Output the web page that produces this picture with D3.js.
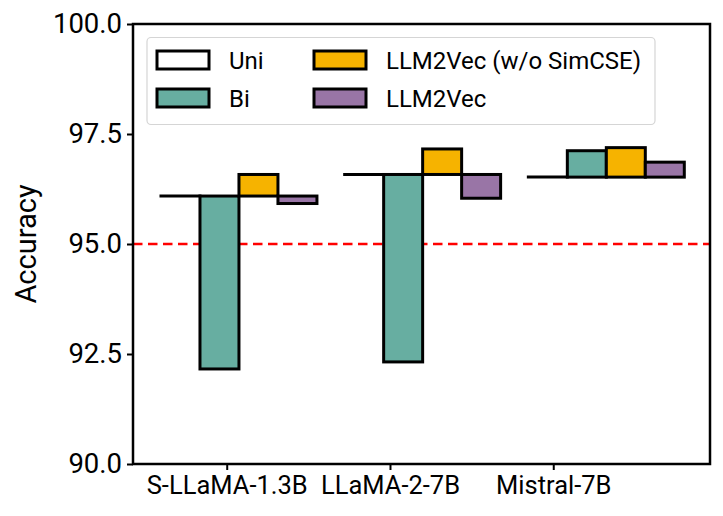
<!DOCTYPE html>
<html><head><meta charset="utf-8">
<script src="https://cdn.jsdelivr.net/npm/d3@7"></script>
<style>body{margin:0;background:#fff}</style>
</head><body>
<svg id="c" width="723" height="516"></svg>
<script>
const categories = ["S-LLaMA-1.3B", "LLaMA-2-7B", "Mistral-7B"];
const uni = [96.09, 96.58, 96.52];
const bi = [92.16, 92.32, 97.12];
const llm2vecNoSimcse = [96.58, 97.16, 97.19];
const llm2vec = [95.92, 96.04, 96.86];
const yTicks = [90.0, 92.5, 95.0, 97.5, 100.0];
const seriesNames = ["Uni", "Bi", "LLM2Vec (w/o SimCSE)", "LLM2Vec"];
const seriesColors = ["#ffffff", "#67aea1", "#f6b300", "#9975a6"];
const tickPos = [0, 1, 2];
const groupPos = [0.075, 1.2, 2.325];
const barWidth = 0.2388;
const threshold = 95.0;

const svg = d3.select("#c");
const m = {left: 133, right: 710, top: 24, bottom: 464};
const x = d3.scaleLinear().domain([-0.574, 2.96]).range([m.left, m.right]);
const y = d3.scaleLinear().domain([90, 100]).range([m.bottom, m.top]);
const font = "Roboto, 'Liberation Sans', sans-serif";

const g = svg.append("g");
const plot = g.append("g");

// threshold line
plot.append("line")
  .attr("x1", x.range()[0]).attr("x2", x.range()[1])
  .attr("y1", y(threshold)).attr("y2", y(threshold))
  .attr("stroke", "#ff0000").attr("stroke-width", 2.5)
  .attr("stroke-dasharray", "9.5,5.5");

const series = [uni, bi, llm2vecNoSimcse, llm2vec];
series.forEach((vals, si) => {
  vals.forEach((v, ci) => {
    const x0 = x(groupPos[ci] + (si - 2) * barWidth);
    const x1 = x(groupPos[ci] + (si - 1) * barWidth);
    const base = uni[ci];
    if (si === 0) {
      plot.append("line")
        .attr("x1", x0).attr("x2", x1)
        .attr("y1", y(base)).attr("y2", y(base))
        .attr("stroke", "#000").attr("stroke-width", 3)
        .attr("stroke-linecap", "square");
    } else {
      const top = y(Math.max(v, base)), bot = y(Math.min(v, base));
      plot.append("rect")
        .attr("x", x0).attr("width", x1 - x0)
        .attr("y", top).attr("height", bot - top)
        .attr("fill", seriesColors[si])
        .attr("stroke", "#000").attr("stroke-width", 3)
        .attr("stroke-linejoin", "miter");
    }
  });
});

// axes
const yAxis = d3.axisLeft(y).tickValues(yTicks).tickFormat(d3.format(".1f")).tickSize(6).tickPadding(5);
const ya = g.append("g").attr("transform", `translate(${m.left},0)`).call(yAxis);
ya.select(".domain").remove();
ya.selectAll(".tick line").attr("stroke-width", 2);
ya.selectAll(".tick text").attr("font-family", font).attr("font-size", 27.5).attr("fill", "#000");

const xAxis = d3.axisBottom(x).tickValues(tickPos).tickFormat((d, i) => categories[i]).tickSize(6).tickPadding(6);
const xa = g.append("g").attr("transform", `translate(0,${m.bottom})`).call(xAxis);
xa.select(".domain").remove();
xa.selectAll(".tick line").attr("stroke-width", 2);
xa.selectAll(".tick text").attr("font-family", font).attr("font-size", 25.5).attr("fill", "#000");

// frame
g.append("rect")
  .attr("x", m.left).attr("y", m.top)
  .attr("width", m.right - m.left).attr("height", m.bottom - m.top)
  .attr("fill", "none").attr("stroke", "#000").attr("stroke-width", 2.5);

// y label
g.append("text")
  .attr("transform", `translate(36,${(m.top + m.bottom) / 2}) rotate(-90)`)
  .attr("text-anchor", "middle")
  .attr("font-family", font).attr("font-size", 29)
  .text("Accuracy");

// legend
const lg = g.append("g");
lg.append("rect")
  .attr("x", 147).attr("y", 37.5).attr("width", 508).attr("height", 87)
  .attr("rx", 4).attr("fill", "#fff").attr("fill-opacity", 0.85)
  .attr("stroke", "#d5d5d5").attr("stroke-width", 1.2);
const colX = [157, 314];
const rowY = [60, 98];
seriesNames.forEach((name, i) => {
  const col = Math.floor(i / 2), row = i % 2;
  lg.append("rect")
    .attr("x", colX[col]).attr("y", rowY[row] - 9)
    .attr("width", 52).attr("height", 18)
    .attr("fill", seriesColors[i]).attr("stroke", "#000").attr("stroke-width", 3);
  lg.append("text")
    .attr("x", colX[col] + 72).attr("y", rowY[row])
    .attr("dy", "0.36em")
    .attr("font-family", font).attr("font-size", 24)
    .text(name);
});
</script>
</body></html>
